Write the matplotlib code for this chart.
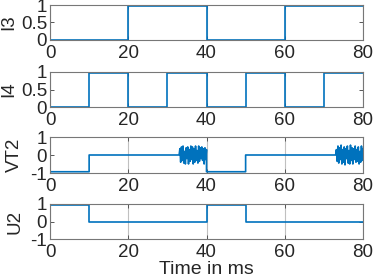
import matplotlib
matplotlib.use("Agg")
import matplotlib.pyplot as plt

plt.rcParams['font.family'] = ['Liberation Sans', 'DejaVu Sans']
plt.rcParams['font.size'] = 13.5

# switching instants (ms) and levels, drawn as step signals
i3_t = [0, 20, 40, 60, 80]
i3_v = [0, 0.96, 0, 0.96, 0.96]

i4_t = [0, 10, 20, 30, 40, 50, 60, 70, 80]
i4_v = [0, 0.96, 0, 0.96, 0, 0.96, 0, 0.96, 0.96]

u2_t = [0, 10, 40, 50, 80]
u2_v = [0.95, 0, 0.95, 0, 0]

# VT2: steps plus two ringing bursts
vt2_steps_t = [0, 10, 33]
vt2_steps_v = [-0.93, 0, 0]
burst1_t = [33.0, 33.2, 33.4, 33.6, 33.8, 34.0, 34.2, 34.4, 34.6, 34.8, 35.0, 35.2,
            35.4, 35.6, 35.8, 36.0, 36.2, 36.4, 36.6, 36.8, 37.0, 37.2, 37.4, 37.6,
            37.8, 38.0, 38.2, 38.4, 38.6, 38.8, 39.0, 39.2, 39.4, 39.6, 39.8, 40.0]
burst1_v = [0.0, 0.35, -0.4, 0.45, -0.3, 0.5, -0.45, 0.2, -0.5, 0.4, -0.2, 0.45,
            -0.5, 0.3, -0.35, 0.5, -0.25, 0.45, -0.5, 0.35, -0.4, 0.5, -0.3, 0.25,
            -0.45, 0.5, -0.35, 0.4, -0.2, 0.45, -0.3, 0.35, -0.5, 0.4, -0.25, 0.3]
mid_t = [40, 50, 73]
mid_v = [-0.93, 0, 0]
burst2_t = [73.0, 73.2, 73.4, 73.6, 73.8, 74.0, 74.2, 74.4, 74.6, 74.8, 75.0, 75.2,
            75.4, 75.6, 75.8, 76.0, 76.2, 76.4, 76.6, 76.8, 77.0, 77.2, 77.4, 77.6,
            77.8, 78.0, 78.2, 78.4, 78.6, 78.8, 79.0, 79.2, 79.4, 79.6, 79.8, 80.0]
burst2_v = [0.0, 0.3, -0.35, 0.5, -0.45, 0.4, -0.25, 0.55, -0.5, 0.3, -0.4, 0.45,
            -0.55, 0.35, -0.2, 0.5, -0.45, 0.25, -0.5, 0.55, -0.3, 0.4, -0.5, 0.35,
            -0.25, 0.5, -0.4, 0.3, -0.35, 0.45, -0.5, 0.2, -0.4, 0.5, -0.3, 0.35]

blue = '#0072BD'
W, H = 374, 280
fig = plt.figure(figsize=(W / 100, H / 100), dpi=100)

def px_axes(top, bottom):
    return fig.add_axes([50 / W, 1 - bottom / H, 313 / W, (bottom - top) / H])

def style(ax, ylim, yticks, yticklabels, ylabel, label_x):
    ax.set_xlim(0, 80)
    ax.set_xticks([0, 20, 40, 60, 80])
    ax.set_ylim(*ylim)
    ax.set_yticks(yticks)
    ax.set_yticklabels(yticklabels)
    ax.xaxis.grid(True, color='#c0c0c0', lw=0.8)
    ax.tick_params(direction='in', length=3, width=0.7, color='#555555',
                   top=True, right=True, labelsize=13.5, pad=2, labelcolor='#262626')
    ax.tick_params(axis='x', pad=3.5)
    for s in ax.spines.values():
        s.set_color('#777777')
        s.set_linewidth(0.8)
    ax.set_ylabel(ylabel, fontsize=13.5, labelpad=1, color='#262626')
    ax.yaxis.set_label_coords(label_x, 0.5)

ax1 = px_axes(5, 40)
ax1.step(i3_t, i3_v, where='post', color=blue, lw=1.2)
style(ax1, (0, 1), [0, 0.5, 1], ['0', '0.5', '1'], 'I3', -0.104)

ax2 = px_axes(72, 107)
ax2.step(i4_t, i4_v, where='post', color=blue, lw=1.2)
style(ax2, (0, 1), [0, 0.5, 1], ['0', '0.5', '1'], 'I4', -0.104)

ax3 = px_axes(137, 173)
# flat parts drawn as steps, bursts joined point to point
xs, ys = [], []
for seg_t, seg_v, stepped in [(vt2_steps_t, vt2_steps_v, True), (burst1_t, burst1_v, False),
                              (mid_t, mid_v, True), (burst2_t, burst2_v, False)]:
    if stepped:
        for k in range(len(seg_t) - 1):
            xs += [seg_t[k], seg_t[k + 1]]
            ys += [seg_v[k], seg_v[k]]
    else:
        xs += list(seg_t)
        ys += list(seg_v)
ax3.plot(xs, ys, color=blue, lw=1.2)
style(ax3, (-1, 1), [-1, 0, 1], ['-1', '0', '1'], 'VT2', -0.086)

ax4 = px_axes(204, 239)
ax4.step(u2_t, u2_v, where='post', color=blue, lw=1.2)
style(ax4, (-1, 1), [-1, 0, 1], ['-1', '0', '1'], 'U2', -0.086)
ax4.set_xlabel('Time in ms', fontsize=14, labelpad=0, color='#262626')

fig.savefig('out.png', dpi=100)
